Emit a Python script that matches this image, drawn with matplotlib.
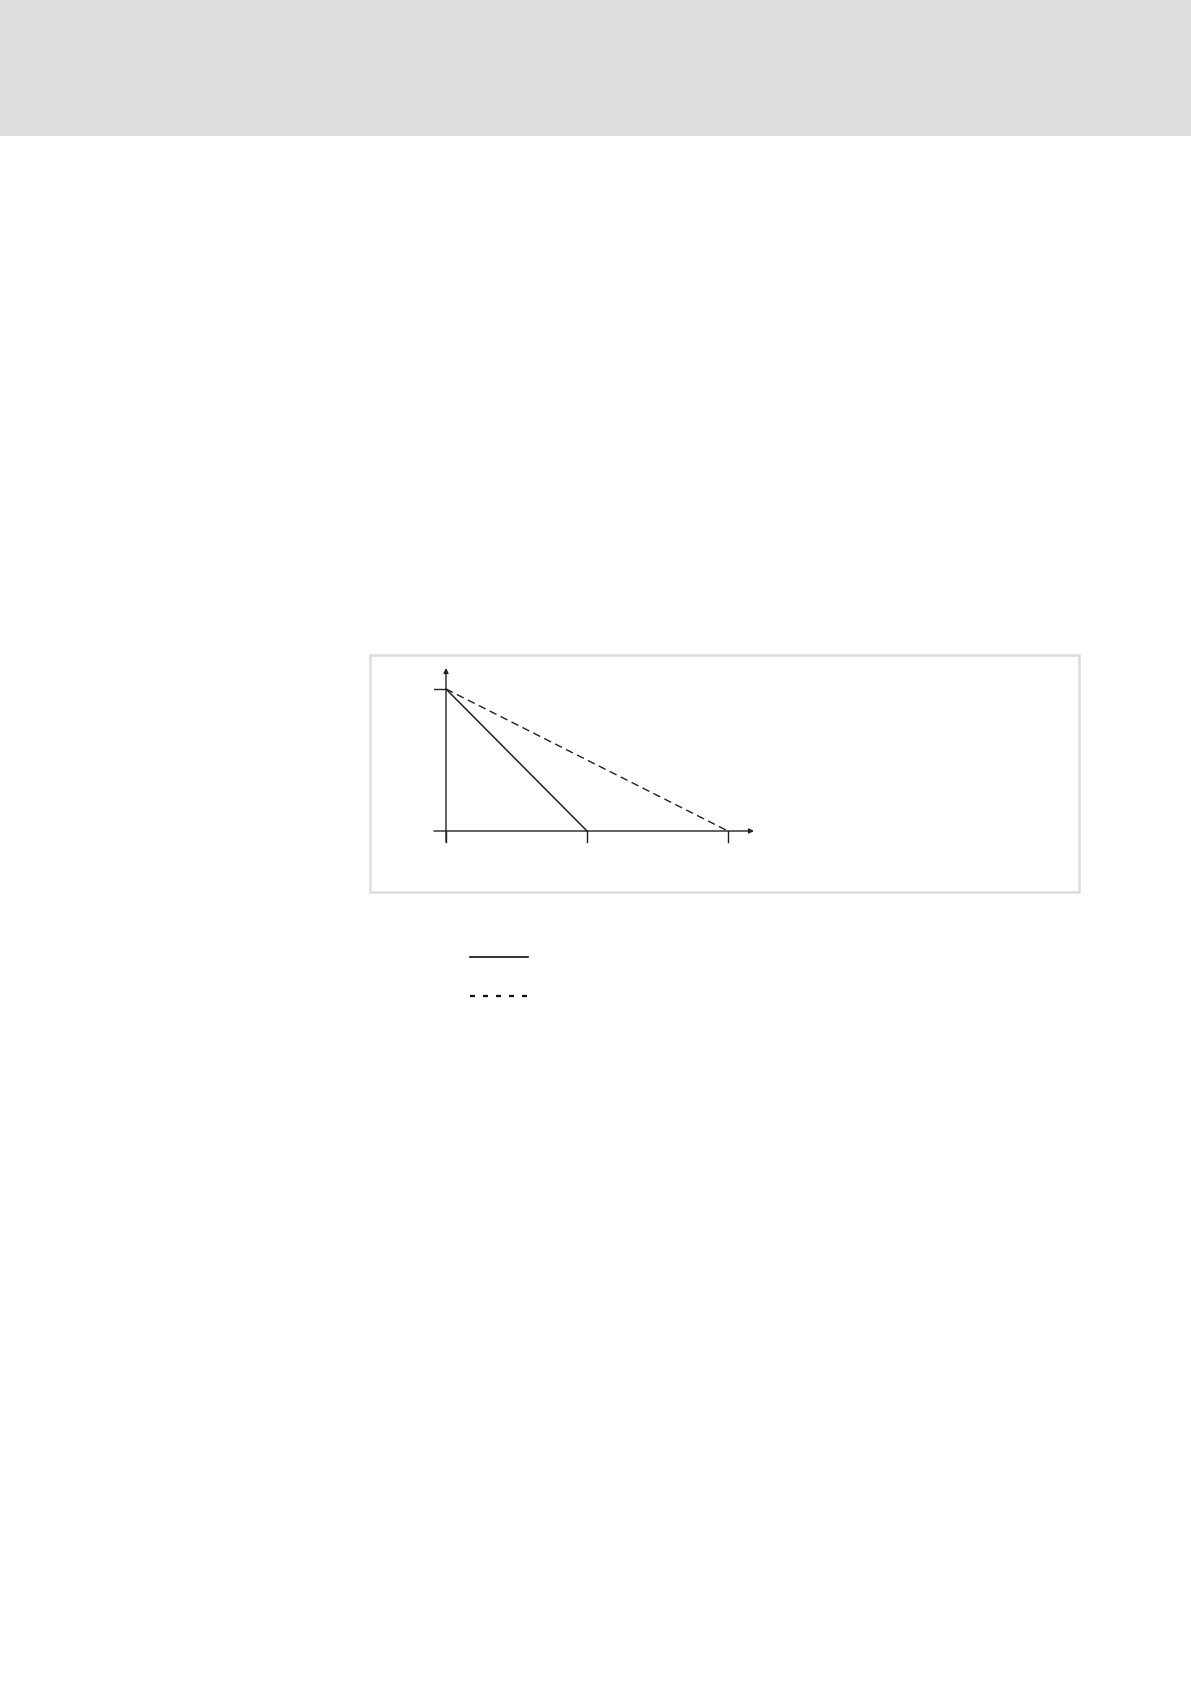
import matplotlib.pyplot as plt
from matplotlib.patches import Rectangle
from matplotlib.lines import Line2D

# two characteristics: solid reaches zero at x=1, dashed at x=2
solid_x = [0, 1]
solid_y = [1, 0]
dashed_x = [0, 2]
dashed_y = [1, 0]
xticks = [0, 1, 2]
yticks = [1]

W, H = 1191, 1685
fig = plt.figure(figsize=(W / 100, H / 100), dpi=100)

def fx(px):
    return px / W

def fy(py):
    return 1 - py / H

# grey header band
fig.add_artist(Rectangle((0, fy(136)), 1, 136 / H, transform=fig.transFigure,
                         facecolor='#dedede', edgecolor='none'))

# light frame around the chart
fig.add_artist(Rectangle((fx(370), fy(892)), (1079 - 370) / W, (892 - 655) / H,
                         transform=fig.transFigure, facecolor='none',
                         edgecolor='#dddddd', lw=1.8))

# chart axes: x 0 -> 446px, 1 unit = 141px ; y 0 -> 831px, 1 unit = 142px
left, right, top, bottom = 434, 760, 660, 845
ax = fig.add_axes([fx(left), fy(bottom), (right - left) / W, (bottom - top) / H])
ax.set_xlim((left - 446) / 141, (right - 446) / 141)
ax.set_ylim((831 - bottom) / 142, (831 - top) / 142)
ax.axis('off')

col = '#222222'
xmin = (434 - 446) / 141
tick_len = 11 / 142

# axes with arrows
ax.annotate('', xy=((754 - 446) / 141, 0), xytext=(xmin, 0),
            arrowprops=dict(arrowstyle='-|>', color=col, lw=1.0, mutation_scale=7,
                            shrinkA=0, shrinkB=0))
ax.annotate('', xy=(0, (831 - 668) / 142), xytext=(0, -tick_len),
            arrowprops=dict(arrowstyle='-|>', color=col, lw=1.0, mutation_scale=7,
                            shrinkA=0, shrinkB=0))
for t in xticks:
    ax.plot([t, t], [0, -tick_len], color=col, lw=1.0)
for t in yticks:
    ax.plot([xmin, 0], [t, t], color=col, lw=1.0)

ax.plot(solid_x, solid_y, color=col, lw=1.1)
ax.plot(dashed_x, dashed_y, color=col, lw=1.0, linestyle=(0, (5.5, 3.3)))

# legend samples below the chart
fig.add_artist(Line2D([fx(470), fx(528)], [fy(957), fy(957)], transform=fig.transFigure,
                      color='#111111', lw=1.2))
fig.add_artist(Line2D([fx(470), fx(528)], [fy(996), fy(996)], transform=fig.transFigure,
                      color='#111111', lw=1.6, linestyle=(0, (2.25, 3.6))))

fig.savefig('out.png', dpi=100)
